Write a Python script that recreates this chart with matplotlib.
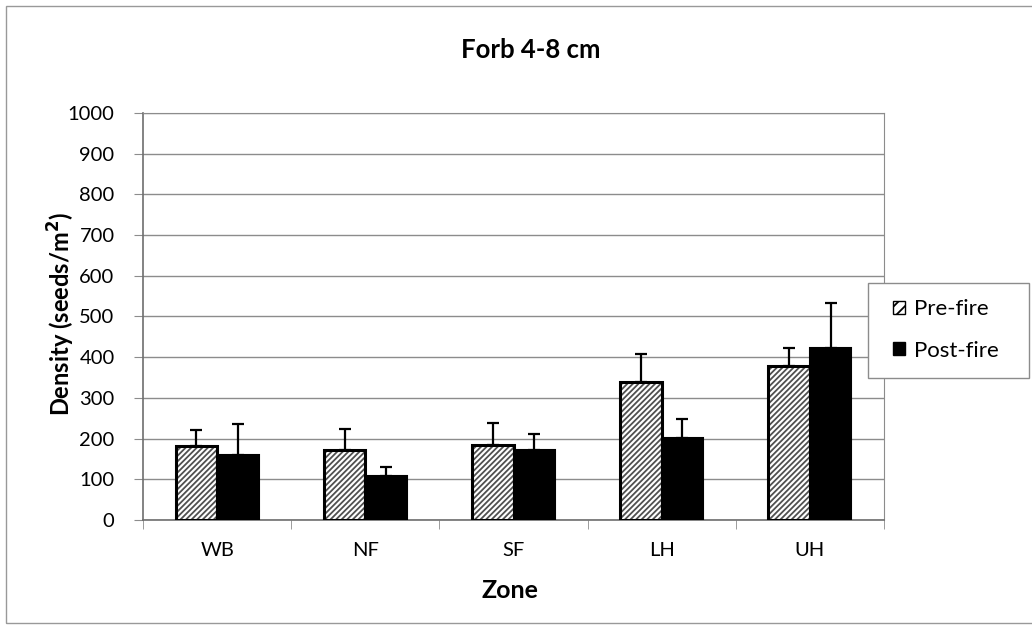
import matplotlib
matplotlib.use("Agg")
import matplotlib.pyplot as plt
import matplotlib.patches as mpatches
import numpy as np

plt.rcParams['font.family'] = ['Lato', 'DejaVu Sans']
plt.rcParams['hatch.linewidth'] = 1.3

zones = ['WB', 'NF', 'SF', 'LH', 'UH']
pre_fire = [182, 173, 184, 340, 379]
pre_err = [39, 50, 55, 68, 44]
post_fire = [160, 107, 173, 201, 422]
post_err = [76, 23, 38, 46, 112]

fig = plt.figure(figsize=(10.32, 6.27), dpi=100)
ax = fig.add_axes([0.1386, 0.1707, 0.7180, 0.6491])

x = np.arange(len(zones))
w = 0.28
hatch_col = '#505050'

# hatched fill first (gray lines), then a black outline on top
ax.bar(x - w / 2, pre_fire, w, color='white', edgecolor=hatch_col, hatch='//////',
       linewidth=0, zorder=3)
ax.bar(x - w / 2, pre_fire, w, fill=False, edgecolor='black', linewidth=2.2, zorder=4)
ax.bar(x + w / 2, post_fire, w, color='black', edgecolor='black', linewidth=1.5, zorder=3)

ax.errorbar(x - w / 2, pre_fire, yerr=[np.zeros(5), pre_err], fmt='none',
            ecolor='black', elinewidth=1.6, capsize=4.5, capthick=1.6, zorder=2)
ax.errorbar(x + w / 2, post_fire, yerr=[np.zeros(5), post_err], fmt='none',
            ecolor='black', elinewidth=1.6, capsize=4.5, capthick=1.6, zorder=2)

ax.set_xlim(-0.5, len(zones) - 0.5)
ax.set_ylim(0, 1000)
ax.set_yticks(np.arange(0, 1001, 100))
ax.yaxis.grid(True, color='#8c8c8c', linewidth=1)
ax.set_axisbelow(True)

ax.set_xticks(x)
ax.set_xticklabels(zones, fontsize=14.5)
ax.set_xticks(np.arange(-0.5, len(zones)), minor=True)
ax.tick_params(axis='x', which='major', length=0, pad=16)
ax.tick_params(axis='x', which='minor', length=6.5, color='#8c8c8c', direction='out')
ax.tick_params(axis='y', labelsize=14.5, length=6.5, color='#8c8c8c', direction='out', pad=14)

for s in ['top', 'right']:
    ax.spines[s].set_color('#8c8c8c')
for s in ['left', 'bottom']:
    ax.spines[s].set_color('#6e6e6e')
    ax.spines[s].set_linewidth(1.2)

fig.text(531 / 1032, 1 - 50 / 627, 'Forb 4-8 cm', fontsize=18.5, fontweight='bold',
         ha='center', va='center')
ax.set_xlabel('Zone', fontsize=18, fontweight='bold', va='center')
ax.xaxis.set_label_coords(0.495, (520 - 591) / 407)
ax.set_ylabel('Density (seeds/m$^\\mathbf{2}$)', fontsize=17, fontweight='bold', va='center')
ax.yaxis.set_label_coords((61 - 143) / 741, 0.505)

# legend box drawn separately so its padding can be set freely
fig.patches.append(mpatches.Rectangle((868 / 1032, 1 - 378 / 627), 161 / 1032, 95 / 627,
                                      transform=fig.transFigure, facecolor='white',
                                      edgecolor='#8c8c8c', linewidth=1))
handles = [mpatches.Patch(facecolor='white', edgecolor='black', hatch='///', linewidth=1),
           mpatches.Patch(facecolor='black', edgecolor='black')]
leg = fig.legend(handles, ['Pre-fire', 'Post-fire'], loc='center left',
                 bbox_to_anchor=(893 / 1032, 1 - 330 / 627), fontsize=16,
                 frameon=False, handlelength=0.55, handleheight=0.55, handletextpad=0.4,
                 labelspacing=0.95, borderpad=0, borderaxespad=0)

fig.patches.append(mpatches.Rectangle((6 / 1032, 4 / 627), 1030 / 1032, 617 / 627,
                                      transform=fig.transFigure, fill=False,
                                      edgecolor='#999999', linewidth=1))

fig.savefig('out.png', dpi=100)
